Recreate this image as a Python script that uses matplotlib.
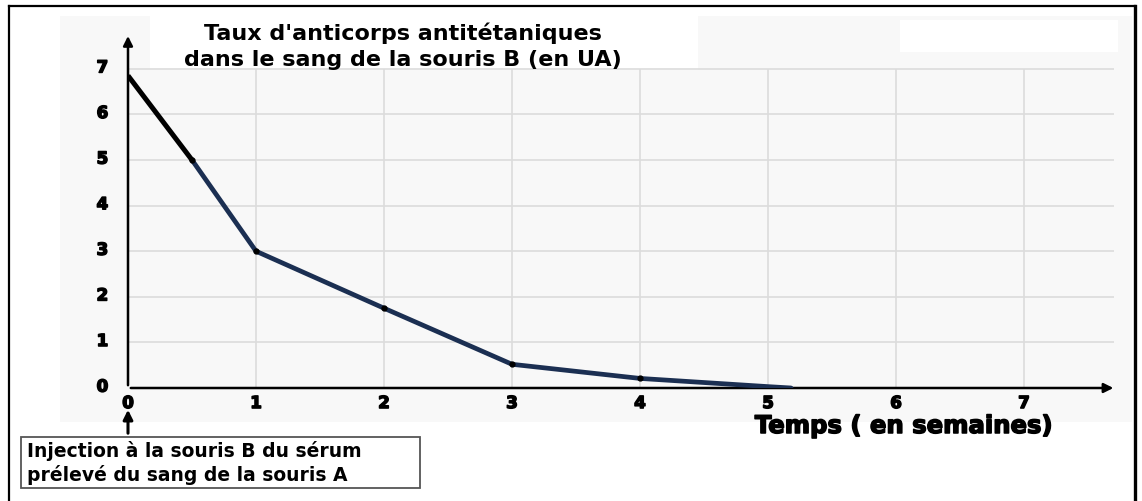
import numpy as np
import matplotlib
matplotlib.use('Agg')
from matplotlib import pyplot as plt
from matplotlib.patches import Rectangle
import matplotlib.patheffects as pe

# data
WEEKS_BLACK = [0, 0.5]
TAUX_BLACK = [6.85, 5.0]
WEEKS = [0.5, 1, 2, 3, 4, 5, 5.18]
TAUX = [5.0, 3.0, 1.75, 0.52, 0.21, 0.03, 0.0]
DOTS_X = [0.5, 1, 2, 3, 4]
DOTS_Y = [5.0, 3.0, 1.75, 0.52, 0.21]
X_TICKS = [0, 1, 2, 3, 4, 5, 6, 7]
Y_TICKS = [0, 1, 2, 3, 4, 5, 6, 7]

W, H = 1142, 501
fig = plt.figure(figsize=(W / 100, H / 100), dpi=100)
fig.patch.set_facecolor('white')

heavy = [pe.withStroke(linewidth=1.1, foreground='black')]

# light gray panel behind the graph + white boxes at the top
bg = fig.add_axes([0, 0, 1, 1])
bg.set_xlim(0, W)
bg.set_ylim(H, 0)
bg.axis('off')
bg.add_patch(Rectangle((60, 16), 1072, 406, facecolor='#f8f8f8', edgecolor='none'))
bg.add_patch(Rectangle((150, 14), 548, 56, facecolor='white', edgecolor='none'))
bg.add_patch(Rectangle((900, 20), 218, 32, facecolor='white', edgecolor='none'))
# outer frame
bg.plot([9, 9], [H, 6], color='black', lw=1.6)
bg.plot([9, 1135], [6, 6], color='black', lw=1.6)
bg.plot([1135, 1135], [6, H], color='black', lw=2.4)

x0, y0 = 128, 388
px_x, px_y = 128.0, 45.6
xmax, ymax = 7.7, 7.75
ax = fig.add_axes([x0 / W, (H - y0) / H, xmax * px_x / W, ymax * px_y / H])
ax.set_xlim(0, xmax)
ax.set_ylim(0, ymax)
ax.patch.set_alpha(0)
for s in ax.spines.values():
    s.set_visible(False)
ax.set_xticks([])
ax.set_yticks([])

# grid
ax.hlines(Y_TICKS[1:], 0, 7.75, colors='#dcdcdc', lw=1.2, zorder=1)
ax.vlines(X_TICKS[1:], 0, 7, colors='#dcdcdc', lw=1.2, zorder=1)

# axes with arrows
ax.annotate('', xy=(7.72, 0), xytext=(0, 0),
            arrowprops=dict(arrowstyle='-|>', color='black', lw=1.8, mutation_scale=14),
            annotation_clip=False, zorder=3)
ax.annotate('', xy=(0, 7.78), xytext=(0, 0),
            arrowprops=dict(arrowstyle='-|>', color='black', lw=1.8, mutation_scale=14),
            annotation_clip=False, zorder=3)

# curve
ax.plot(WEEKS, TAUX, color='#1b2f52', lw=3.4, solid_capstyle='round', zorder=4)
ax.plot(WEEKS_BLACK, TAUX_BLACK, color='black', lw=3.6, solid_capstyle='butt', zorder=5)
ax.plot(DOTS_X, DOTS_Y, 'o', color='black', ms=3.5, zorder=6)

# tick labels
for t in X_TICKS:
    ax.text(t, -0.33, str(t), ha='center', va='center', fontsize=12,
            fontweight='bold', family='DejaVu Sans', path_effects=heavy)
for t in Y_TICKS:
    ax.text(-0.2, t + 0.03, str(t), ha='center', va='center', fontsize=12,
            fontweight='bold', family='DejaVu Sans', path_effects=heavy)

# titles
fig.text(403 / W, 1 - 33 / H, "Taux d'anticorps antitétaniques", ha='center', va='center',
         fontsize=16, fontweight='bold', family='DejaVu Sans')
fig.text(403 / W, 1 - 60 / H, "dans le sang de la souris B (en UA)", ha='center', va='center',
         fontsize=16, fontweight='bold', family='DejaVu Sans')
fig.text(903 / W, 1 - 426 / H, "Temps ( en semaines)", ha='center', va='center',
         fontsize=17.5, fontweight='bold', family='DejaVu Sans', path_effects=heavy)

# injection annotation
bg.annotate('', xy=(128, 407), xytext=(128, 436),
            arrowprops=dict(arrowstyle='-|>', color='black', lw=2.2, mutation_scale=14))
bg.add_patch(Rectangle((21, 437), 399, 51, facecolor='white', edgecolor='#555555', lw=1.3))
bg.text(27, 451, "Injection à la souris B du sérum", ha='left', va='center',
        fontsize=13.5, fontweight='bold', family='DejaVu Sans')
bg.text(27, 475, "prélevé du sang de la souris A", ha='left', va='center',
        fontsize=13.5, fontweight='bold', family='DejaVu Sans')

fig.savefig('out.png', dpi=100, facecolor='white')
